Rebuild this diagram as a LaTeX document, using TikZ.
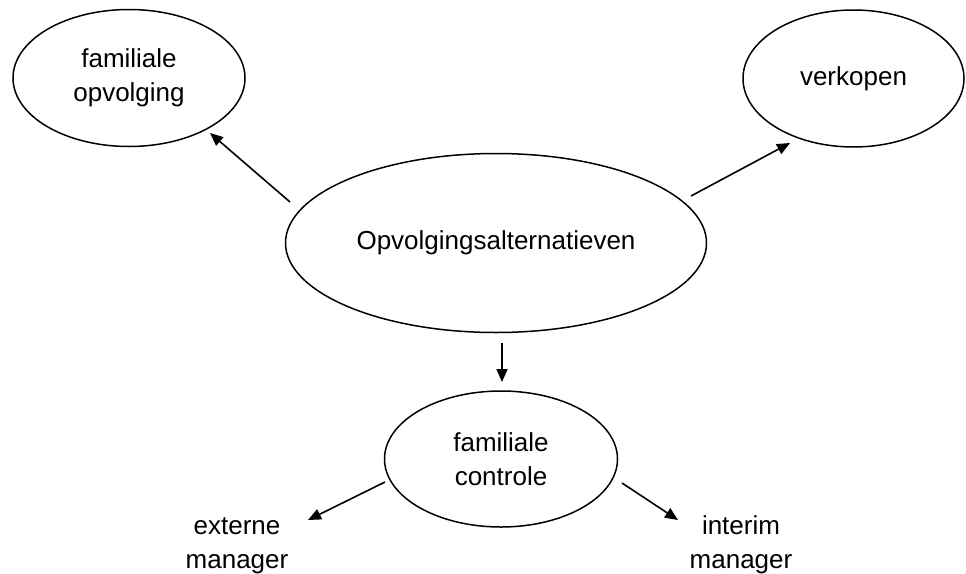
\documentclass[tikz,border=0pt]{standalone}
\usepackage{fontspec}
\setmainfont{Liberation Sans}
\usetikzlibrary{shapes.geometric,arrows.meta}
\tikzset{
  oval/.style={ellipse, draw=black, line width=1.5pt, inner sep=0pt,
    align=center, font=\fontsize{26}{34}\selectfont},
  lbl/.style={inner sep=0pt, align=center, font=\fontsize{26}{34}\selectfont},
  arr/.style={line width=1.6pt, -{Triangle[length=13pt,width=11pt]}}
}
\begin{document}
\begin{tikzpicture}[x=1pt,y=-1pt]
\useasboundingbox (0,0) rectangle (966,573);
\node[oval, minimum width=232pt, minimum height=137pt] (fo) at (129,78) {familiale\\opvolging};
\node[oval, minimum width=221pt, minimum height=137pt] (vk) at (853.5,78.5) {verkopen};
\node[oval, minimum width=421pt, minimum height=179pt] (oa) at (496,243) {Opvolgingsalternatieven};
\node[oval, minimum width=233pt, minimum height=136pt] (fc) at (501,459) {familiale\\controle};
\node[lbl, anchor=base] (em) at (237,568) {externe\\manager};
\node[lbl, anchor=base] (im) at (741,568) {interim\\manager};
% connector ends
\coordinate (a1s) at (290,202); \coordinate (a1e) at (210,133);
\coordinate (a2s) at (691,196); \coordinate (a2e) at (790,143);
\coordinate (a3s) at (502,343); \coordinate (a3e) at (502,382);
\coordinate (a4s) at (385,482); \coordinate (a4e) at (308,520);
\coordinate (a5s) at (622,483); \coordinate (a5e) at (678,520);
\draw[arr] (a1s) -- (a1e);
\draw[arr] (a2s) -- (a2e);
\draw[arr] (a3s) -- (a3e);
\draw[arr] (a4s) -- (a4e);
\draw[arr] (a5s) -- (a5e);
\end{tikzpicture}
\end{document}
